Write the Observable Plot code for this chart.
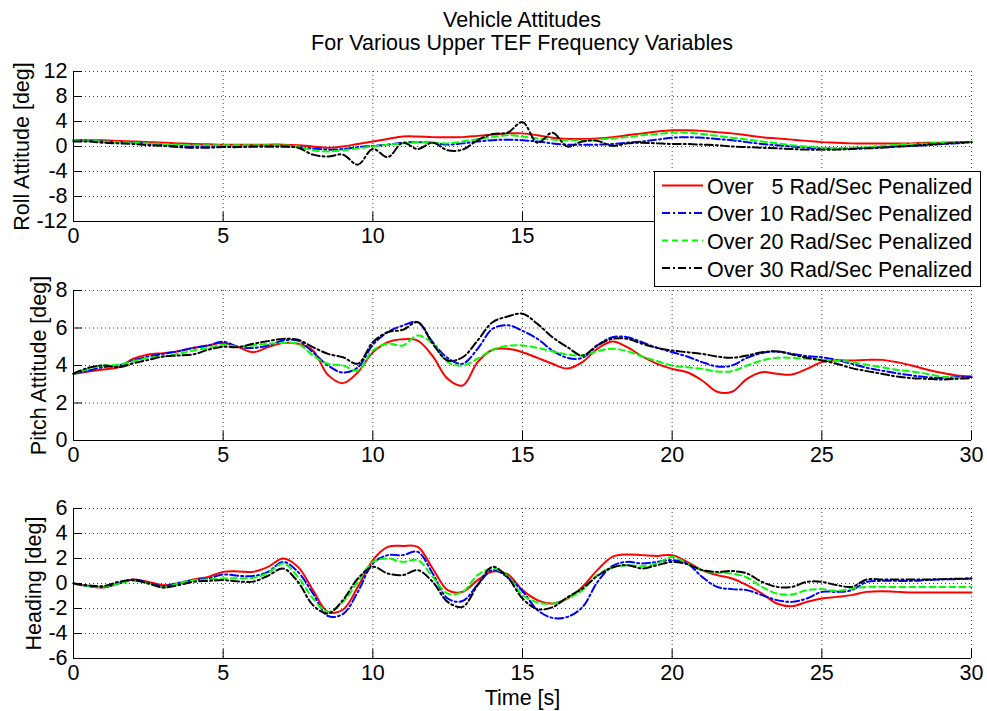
<!DOCTYPE html>
<html>
<head>
<meta charset="utf-8">
<script src="https://cdn.jsdelivr.net/npm/d3@7"></script>
<script src="https://cdn.jsdelivr.net/npm/@observablehq/plot@0.6"></script>
<style>
  html, body { margin: 0; padding: 0; background: #fff; }
  #fig { position: relative; width: 987px; height: 711px; background: #fff; overflow: hidden;
         font-family: "Liberation Sans", Arial, sans-serif; color: #000; }
  #title { position: absolute; left: 73px; width: 898px; top: 9px; text-align: center;
           font-size: 21.5px; line-height: 23.4px; }
  .panel { position: absolute; left: 0; }
</style>
</head>
<body>
<div id="fig">
  <div id="title">Vehicle Attitudes<br>For Various Upper TEF Frequency Variables</div>
</div>
<script>
// ---------------- data ----------------
const time = [0,0.5,1,1.5,2,2.5,3,3.5,4,4.5,5,5.5,6,6.5,7,7.5,8,8.5,9,9.5,10,10.5,11,11.5,12,12.5,13,13.5,14,14.5,15,15.5,16,16.5,17,17.5,18,18.5,19,19.5,20,20.5,21,21.5,22,22.5,23,23.5,24,24.5,25,25.5,26,26.5,27,27.5,28,28.5,29,29.5,30];

const xTicks = [0,5,10,15,20,25,30];
const rollXLabels = [0,5,10,15];   // 20, 25, 30 lie under the legend in the reference
const rollTicks = [-12,-8,-4,0,4,8,12];
const pitchTicks = [0,2,4,6,8];
const headingTicks = [-6,-4,-2,0,2,4,6];

const seriesNames = ["Over   5 Rad/Sec Penalized","Over 10 Rad/Sec Penalized","Over 20 Rad/Sec Penalized","Over 30 Rad/Sec Penalized"];

const rollRed = [1.0,1.0,1.0,0.9,0.8,0.7,0.6,0.5,0.4,0.35, 0.3,0.3,0.3,0.3,0.3,0.2,0.0,-0.2,0.0,0.4, 0.8,1.2,1.6,1.6,1.5,1.5,1.5,1.7,1.9,2.1, 2.1,1.8,1.4,1.2,1.2,1.3,1.5,1.8,2.1,2.4, 2.6,2.6,2.5,2.3,2.1,1.8,1.5,1.3,1.1,0.9, 0.7,0.6,0.5,0.5,0.5,0.5,0.5,0.6,0.6,0.7, 0.7];
const rollBlue = [1.0,0.9,0.8,0.7,0.6,0.4,0.2,0.1,0.0,0.0, 0.0,0.0,0.0,0.0,0.0,-0.1,-0.3,-0.5,-0.4,-0.1, 0.1,0.3,0.6,0.7,0.6,0.3,0.5,0.8,1.0,1.1, 1.0,0.8,0.5,0.3,0.3,0.3,0.4,0.6,0.8,1.1, 1.4,1.5,1.4,1.2,1.0,0.7,0.4,0.2,0.0,-0.2, -0.3,-0.3,-0.3,-0.2,-0.1,0.0,0.1,0.2,0.4,0.5, 0.7];
const rollGreen = [1.0,0.9,0.8,0.7,0.6,0.5,0.4,0.3,0.2,0.2, 0.2,0.2,0.2,0.2,0.2,0.0,-0.6,-0.8,-0.6,-0.3, 0.0,0.3,0.5,0.7,0.6,0.5,0.8,1.2,1.5,1.8, 1.6,1.3,1.1,1.0,1.0,1.1,1.3,1.5,1.8,2.0, 2.2,2.2,2.0,1.7,1.4,1.1,0.8,0.5,0.2,0.0, -0.2,-0.3,-0.2,-0.1,0.1,0.3,0.4,0.5,0.6,0.7, 0.7];
const rollBlack = [0.8,0.8,0.6,0.5,0.4,0.2,0.1,-0.1,-0.2,-0.2, -0.1,-0.1,0.0,0.0,0.0,-0.2,-1.3,-1.6,-1.3,-2.9, -0.4,-1.7,0.6,-0.4,0.6,-0.6,-0.5,1.0,2.0,2.2, 3.9,0.6,2.2,0.0,0.8,0.9,0.1,0.5,0.6,0.5, 0.4,0.4,0.3,0.2,0.0,-0.1,-0.2,-0.3,-0.4,-0.5, -0.5,-0.5,-0.4,-0.3,-0.2,0.0,0.1,0.3,0.4,0.6, 0.7];

const pitchRed = [3.56,3.68,3.79,3.9,4.36,4.59,4.66,4.76,4.94,5.07, 5.2,4.98,4.71,4.98,5.2,5.16,4.8,3.5,3.06,3.64, 4.7,5.24,5.4,5.33,4.5,3.29,2.93,4.18,4.84,4.89, 4.71,4.41,4.09,3.84,4.18,4.89,5.28,4.98,4.48,4.09, 3.82,3.64,3.2,2.6,2.6,3.29,3.64,3.56,3.52,3.82, 4.18,4.27,4.27,4.3,4.3,4.18,4.0,3.79,3.61,3.47, 3.41];
const pitchBlue = [3.56,3.73,3.91,4.0,4.27,4.48,4.62,4.76,4.94,5.07, 5.27,5.0,4.94,5.07,5.33,5.33,4.7,4.0,3.62,3.9, 5.1,5.78,6.13,6.31,5.24,4.4,4.09,4.89,5.96,6.15, 5.85,5.42,4.8,4.41,4.41,5.07,5.51,5.51,5.24,4.94, 4.71,4.48,4.18,3.95,4.0,4.41,4.66,4.75,4.62,4.5, 4.44,4.3,4.09,3.88,3.73,3.59,3.47,3.38,3.34,3.38, 3.38];
const pitchGreen = [3.56,3.82,4.0,4.04,4.23,4.41,4.48,4.62,4.8,4.94, 5.1,5.0,5.07,5.16,5.2,5.16,4.53,4.09,4.0,3.73, 4.8,5.16,5.07,5.6,5.16,4.18,4.0,4.36,4.84,5.05, 5.07,4.94,4.75,4.59,4.53,4.76,4.89,4.76,4.48,4.23, 4.0,3.91,3.82,3.68,3.7,4.0,4.27,4.41,4.41,4.36, 4.3,4.27,4.18,4.04,3.91,3.77,3.68,3.56,3.41,3.34, 3.29];
const pitchBlack = [3.56,3.88,4.0,3.91,4.12,4.3,4.48,4.53,4.59,4.84, 5.0,4.98,5.16,5.3,5.42,5.37,4.98,4.62,4.44,4.1, 5.24,5.78,5.9,6.31,5.16,4.27,4.44,5.33,6.31,6.61, 6.76,6.22,5.51,4.98,4.53,5.07,5.42,5.42,5.16,4.94, 4.8,4.71,4.62,4.48,4.41,4.53,4.71,4.75,4.59,4.41, 4.27,4.09,3.86,3.7,3.56,3.41,3.33,3.29,3.25,3.29, 3.34];

const headingRed = [0,-0.21,-0.32,0.0,0.32,0.13,-0.13,0.0,0.32,0.53, 0.93,0.97,0.93,1.33,2.0,1.33,-0.53,-2.27,-2.1,-0.27, 1.87,2.93,3.01,2.93,1.2,-0.53,-0.67,0.27,0.95,0.75, -0.53,-1.33,-1.6,-1.2,-0.27,1.07,2.13,2.32,2.27,2.21, 2.27,1.73,1.07,0.67,0.4,-0.13,-0.8,-1.6,-1.81,-1.47, -1.2,-1.07,-0.93,-0.67,-0.61,-0.67,-0.72,-0.72,-0.72,-0.72, -0.72];
const headingBlue = [0,-0.2,-0.3,0.0,0.32,0.05,-0.21,0.05,0.27,0.4, 0.72,0.62,0.6,0.93,1.73,0.93,-0.8,-2.6,-2.45,-0.67, 1.6,2.27,2.27,2.53,0.8,-1.2,-1.4,-0.1,1.07,0.5, -0.62,-2.13,-2.75,-2.67,-1.9,0.1,1.4,1.73,1.6,1.73, 1.87,1.6,0.53,-0.27,-0.45,-0.53,-0.93,-1.33,-1.47,-1.2, -0.67,-0.67,-0.53,0.13,0.21,0.21,0.21,0.27,0.32,0.35, 0.4];
const headingGreen = [0,-0.2,-0.27,0.0,0.21,0.0,-0.32,0.0,0.27,0.32, 0.4,0.42,0.45,0.85,1.6,0.53,-1.2,-2.27,-1.47,0.13, 1.73,2.0,1.73,1.87,0.53,-0.8,-0.67,0.67,1.2,0.6, -0.93,-1.5,-1.6,-1.2,-0.53,0.67,1.28,1.47,1.39,1.6, 2.13,1.6,1.07,0.85,0.8,0.48,-0.27,-0.8,-0.88,-0.53, -0.45,-0.59,-0.4,-0.27,-0.27,-0.27,-0.27,-0.27,-0.27,-0.27, -0.27];
const headingBlack = [0,-0.15,-0.21,0.13,0.27,0.0,-0.32,-0.13,0.13,0.21, 0.27,0.17,0.15,0.62,1.2,0.13,-1.73,-2.4,-1.33,0.4, 1.33,0.8,0.67,1.07,0.13,-1.47,-1.87,-0.13,1.33,0.5, -1.2,-2.05,-1.9,-1.1,-0.4,0.6,1.28,1.47,1.2,1.47, 1.73,1.55,1.07,0.93,1.0,0.8,0.13,-0.27,-0.27,0.13, 0.13,-0.13,-0.27,0.32,0.32,0.32,0.32,0.32,0.35,0.38, 0.4];

// ---------------- styles ----------------
const seriesColors = ["#ff0000", "#0000ff", "#00ff00", "#000000"];
const seriesDash = [null, "8,3,2,3", "6,4", "8,3,2,3"];
const FONT = '"Liberation Sans", Arial, sans-serif';
const FS = "21.5px";

const fig = document.getElementById("fig");

function makePanel(cfg) {
  const marks = [
    Plot.gridX({ticks: xTicks, stroke: "#444", strokeOpacity: 1, strokeDasharray: "1,3"}),
    Plot.gridY({ticks: cfg.ticks, stroke: "#444", strokeOpacity: 1, strokeDasharray: "1,3"})
  ];
  cfg.series.forEach((vals, k) => {
    const rows = time.map((t, i) => ({t, v: vals[i]}));
    const opts = {x: "t", y: "v", stroke: seriesColors[k], strokeWidth: 2, curve: "catmull-rom"};
    if (seriesDash[k]) opts.strokeDasharray = seriesDash[k];
    marks.push(Plot.line(rows, opts));
  });
  marks.push(
    Plot.ruleX([0], {stroke: "#000", strokeWidth: 1}),
    Plot.ruleY([cfg.domain[0]], {stroke: "#000", strokeWidth: 1}),
    Plot.tickX(xTicks, {x: d => d, insetTop: 141, stroke: "#000"}),
    Plot.tickY(cfg.ticks, {y: d => d, insetRight: 889, stroke: "#000"}),
    Plot.axisX({ticks: cfg.xLabels || xTicks, tickSize: 0, tickPadding: 6, tickFormat: d => String(d),
      label: cfg.xLabel || null, labelAnchor: "center", labelOffset: 46, labelArrow: "none"}),
    Plot.axisY({ticks: cfg.ticks, tickSize: 0, tickPadding: 6, tickFormat: d => String(d),
      label: cfg.label, labelAnchor: "center", labelOffset: cfg.labelOffset, labelArrow: "none"})
  );
  const chart = Plot.plot({
    width: 987,
    height: cfg.height,
    marginLeft: 73, marginRight: 16, marginTop: cfg.mt, marginBottom: cfg.mb,
    style: {fontFamily: FONT, fontSize: FS, color: "#000", background: "transparent", overflow: "visible"},
    x: {type: "linear", domain: [0, 30]},
    y: {type: "linear", domain: cfg.domain},
    marks
  });
  chart.classList.add("panel");
  chart.style.top = cfg.top + "px";
  chart.style.position = "absolute";
  fig.appendChild(chart);
}

makePanel({top: 0, height: 252, mt: 71, mb: 31, domain: [-12, 12], ticks: rollTicks,
  label: "Roll Attitude [deg]", labelOffset: 60, xLabels: rollXLabels,
  series: [rollRed, rollBlue, rollGreen, rollBlack]});
makePanel({top: 252, height: 218, mt: 38, mb: 30, domain: [0, 8], ticks: pitchTicks,
  label: "Pitch Attitude [deg]", labelOffset: 43,
  series: [pitchRed, pitchBlue, pitchGreen, pitchBlack]});
makePanel({top: 470, height: 241, mt: 38, mb: 53, domain: [-6, 6], ticks: headingTicks,
  label: "Heading [deg]", labelOffset: 48, xLabel: "Time [s]",
  series: [headingRed, headingBlue, headingGreen, headingBlack]});

// ---------------- legend ----------------
const leg = d3.select(fig).append("svg")
  .attr("width", 328).attr("height", 117)
  .style("position", "absolute").style("left", "654px").style("top", "171px")
  .style("font-family", FONT).style("font-size", FS);
leg.append("rect").attr("x", 0.5).attr("y", 0.5).attr("width", 326).attr("height", 115)
  .attr("fill", "#fff").attr("stroke", "#000");
seriesNames.forEach((name, k) => {
  const ly = 14.5 + 27.5 * k;
  const line = leg.append("line").attr("x1", 8).attr("x2", 49).attr("y1", ly).attr("y2", ly)
    .attr("stroke", seriesColors[k]).attr("stroke-width", 2);
  if (seriesDash[k]) line.attr("stroke-dasharray", seriesDash[k]);
  leg.append("text").attr("x", 53).attr("y", 22.5 + 27.7 * k)
    .attr("fill", "#000").style("white-space", "pre").attr("xml:space", "preserve").text(name);
});
</script>
</body>
</html>
